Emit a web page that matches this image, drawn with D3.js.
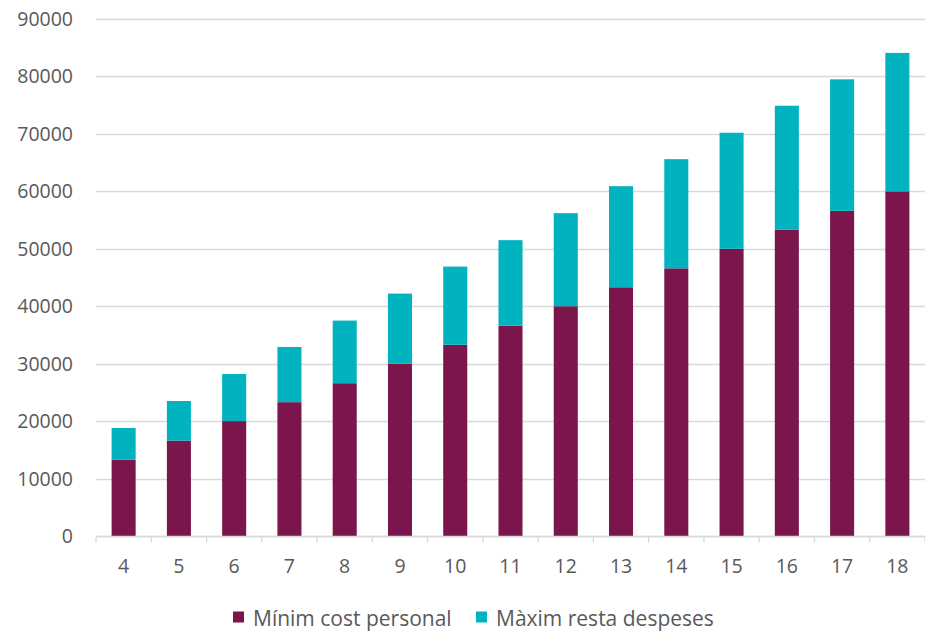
<!DOCTYPE html>
<html><head><meta charset="utf-8">
<script src="https://cdn.jsdelivr.net/npm/d3@7"></script>
<style>body{margin:0;background:#fff;}svg{display:block;font-family:"Open Sans",Carlito,Calibri,sans-serif;}</style>
</head><body><svg id="c" width="925" height="632"></svg>
<script>
const categories = ["4","5","6","7","8","9","10","11","12","13","14","15","16","17","18"];
const minimCost = [13300,16600,20000,23300,26600,30000,33300,36600,40000,43300,46600,50000,53300,56600,60000];
const maximResta = [5500,6900,8200,9600,10900,12200,13600,14900,16200,17600,19000,20200,21600,22900,24100];
const yTicks = [0,10000,20000,30000,40000,50000,60000,70000,80000,90000];
const seriesNames = ["Mínim cost personal","Màxim resta despeses"];
const colors = ["#7A164B","#00B3BE"];

const svg = d3.select("#c");
const mLeft = 96, mRight = 925, mTop = 19, mBottom = 536;
const x = d3.scaleBand().domain(categories).range([mLeft, mRight]).paddingInner(0.565).paddingOuter(0.2825);
const y = d3.scaleLinear().domain([0, 90000]).range([mBottom, mTop]);

// gridlines
svg.append("g").selectAll("line").data(yTicks).join("line")
  .attr("x1", mLeft).attr("x2", mRight)
  .attr("y1", d => Math.round(y(d)) + 0.5).attr("y2", d => Math.round(y(d)) + 0.5)
  .attr("stroke", "#d9d9d9").attr("stroke-width", 1.3);

// y labels
svg.append("g").selectAll("text").data(yTicks).join("text")
  .attr("x", 73).attr("y", d => y(d)).attr("dy", "0.36em")
  .attr("text-anchor", "end").attr("fill", "#595959").attr("font-size", 19.5)
  .text(d => d);

const rows = categories.map((c, i) => ({cat: c, a: minimCost[i], b: maximResta[i]}));
const stack = d3.stack().keys(["a","b"])(rows);
svg.append("g").selectAll("g").data(stack).join("g")
  .attr("fill", (d, i) => colors[i])
  .selectAll("rect").data(d => d).join("rect")
  .attr("x", d => x(d.data.cat)).attr("width", x.bandwidth())
  .attr("y", d => y(d[1])).attr("height", d => y(d[0]) - y(d[1]));

// x axis
const xAxis = svg.append("g").attr("transform", `translate(0,${mBottom + 0.5})`);
xAxis.append("line").attr("x1", mLeft).attr("x2", mRight).attr("stroke", "#d9d9d9").attr("stroke-width", 1.3);
const step = x.step();
const bounds = d3.range(categories.length + 1).map(i => mLeft + i * step);
xAxis.selectAll("line.tick").data(bounds).join("line").attr("class","tick")
  .attr("x1", d => d).attr("x2", d => d).attr("y1", 0).attr("y2", 6)
  .attr("stroke", "#d9d9d9").attr("stroke-width", 1.3);
xAxis.selectAll("text").data(categories).join("text")
  .attr("x", d => x(d) + x.bandwidth() / 2).attr("y", 36)
  .attr("text-anchor", "middle").attr("fill", "#595959").attr("font-size", 19.5)
  .text(d => d);

// legend
const legendX = [233, 476];
const lg = svg.append("g").selectAll("g").data(seriesNames).join("g")
  .attr("transform", (d, i) => `translate(${legendX[i]},617)`);
lg.append("rect").attr("x", 0).attr("y", -5.5).attr("width", 11).attr("height", 11).attr("fill", (d, i) => colors[i]);
lg.append("text").attr("x", 20).attr("y", 9)
  .attr("fill", "#595959").attr("font-size", 21).text(d => d);
</script></body></html>
